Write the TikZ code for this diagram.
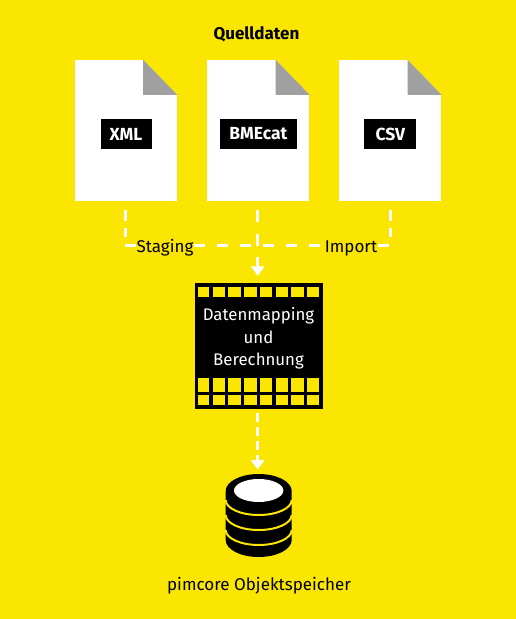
\documentclass[tikz,border=0pt]{standalone}
\usepackage{fontspec}
\setmainfont{Fira Sans}
\usepackage{tikz}
\usetikzlibrary{positioning}
\usetikzlibrary{arrows.meta}
\definecolor{bgyellow}{HTML}{FAE600}
\definecolor{foldgray}{HTML}{A0A0A0}
\tikzstyle{document}=[rectangle, fill=white, minimum width=102pt, minimum height=141pt,
  inner sep=0pt]
\tikzstyle{tag}=[rectangle, fill=black, text=white, font=\fontsize{17.5}{20}\selectfont\bfseries,
  minimum height=30pt, inner sep=0pt, yshift=-3.5pt]
\tikzstyle{plain}=[text=black, inner sep=0pt, anchor=base, font=\fontsize{17}{20}\selectfont]
\tikzstyle{flowlabel}=[plain, fill=bgyellow, inner xsep=0pt, inner ysep=3pt]
\tikzstyle{mapbox}=[rectangle, fill=black, minimum width=128pt, minimum height=126pt,
  inner sep=0pt]
\tikzstyle{maptext}=[text=white, inner sep=0pt, align=center, font=\fontsize{16.8}{22.5}\selectfont]
\tikzstyle{arrflow}=[line width=3pt, draw=white]
\tikzstyle{arrside}=[arrflow, dash pattern=on 11pt off 7pt]
\tikzstyle{arrmain}=[arrflow, dash pattern=on 11pt off 12pt]
\tikzstyle{arrtip}=[-{Triangle[width=13.5pt, length=9.5pt]}]

\begin{document}
\begin{tikzpicture}[x=1pt, y=-1pt]

\fill[bgyellow] (0,0) rectangle (516,619);
\useasboundingbox (0,0) rectangle (516,619);

\node[plain, font=\fontsize{17}{20}\selectfont\bfseries] (quelldaten) at (256.5,39.5) {Quelldaten};

\node[document] (docxml) at (126,130.5) {};
\node[document, right=30pt of docxml] (docbmecat) {};
\node[document, right=29.5pt of docbmecat] (doccsv) {};

% folded corners
\foreach \d in {docxml, docbmecat, doccsv} {
  \fill[bgyellow] ([xshift=-34pt]\d.north east) -- (\d.north east)
    -- ([yshift=-35pt]\d.north east) -- cycle;
  \fill[foldgray] ([xshift=-34pt]\d.north east) -- ([yshift=-35pt]\d.north east)
    -- ([xshift=-34pt, yshift=-35pt]\d.north east) -- cycle;
}

\node[tag, minimum width=51pt] (xml) at (docxml) {XML};
\node[tag, minimum width=76.5pt] (bmecat) at (docbmecat) {BMEcat};
\node[tag, minimum width=52pt] (csv) at (doccsv) {CSV};

\node[mapbox] (mapping) at (259,346) {};
\node[maptext] (mappingtext) at (258.5,338.5) {Datenmapping\\und\\Berechnung};

\coordinate (flowleft) at (125,245);
\coordinate (flowright) at (391,245);
\coordinate (sideleft) at (125.5,237);
\coordinate (sideright) at (390,237);
\coordinate (middle) at (257.7,201);
\coordinate (dbtop) at (257.7,474);

% dashed lines
\draw[arrmain] (flowleft) -- (flowright);
\draw[arrside] ([yshift=-9pt]docxml.south -| sideleft) -- (sideleft);
\draw[arrside] ([yshift=-9pt]doccsv.south -| sideright) -- (sideright);
\draw[arrflow, arrtip, dash pattern=on 12pt off 11.5pt] ([yshift=-9pt]middle) -- ([yshift=7pt]mapping.north -| middle);
\draw[arrflow, arrtip, dash pattern=on 9pt off 5pt] ([yshift=-4pt]mapping.south -| dbtop) -- ([yshift=4.5pt]dbtop);

\node[flowlabel] (staging) at (165,252) {Staging};
\node[flowlabel] (import) at (351,252) {Import};

% cells of the box
\foreach \i in {1,...,7} {
  \fill[bgyellow] (197+15.7*\i,287) rectangle +(12.4,10);
  \fill[bgyellow] (197+15.7*\i,378.3) rectangle +(12.4,13.4);
  \fill[bgyellow] (197+15.7*\i,395) rectangle +(12.4,10);
}
\fill[bgyellow] (198.3,287) rectangle (209.3,297);
\fill[bgyellow] (198.3,378.3) rectangle (209.3,391.7);
\fill[bgyellow] (198.3,395) rectangle (209.3,405);

% database
\fill[black] (225.7,540) arc[start angle=180, end angle=0, x radius=33, y radius=17]
  -- (291.7,491) arc[start angle=0, end angle=-180, x radius=33, y radius=17] -- cycle;
\foreach \y in {500,515,530} {
  \draw[bgyellow, line width=2pt] (225.7,\y) arc[start angle=180, end angle=0, x radius=33, y radius=15];
}
\fill[white] (258.7,490.5) ellipse[x radius=24.7, y radius=11.5];

\node[plain] (speicher) at (259,590) {pimcore Objektspeicher};

\end{tikzpicture}
\end{document}
